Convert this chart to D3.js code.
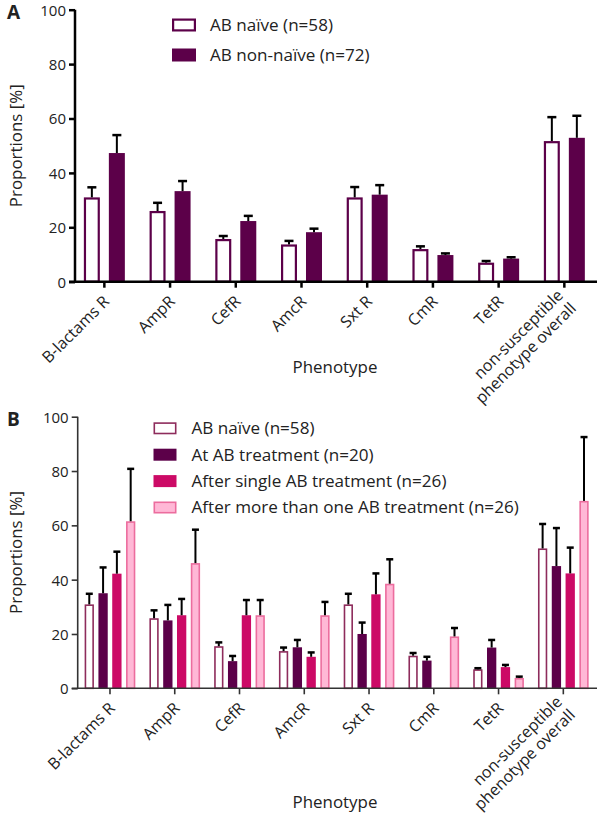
<!DOCTYPE html>
<html><head><meta charset="utf-8">
<script src="https://cdn.jsdelivr.net/npm/d3@7"></script>
<style>body{margin:0;background:#fff}svg{display:block}text{font-family:"Open Sans","Noto Sans",sans-serif;fill:#222}</style>
</head><body><svg id="c" width="602" height="826"></svg>
<script>
const categories = ["B-lactams R","AmpR","CefR","AmcR","Sxt R","CmR","TetR","non-susceptible|phenotype overall"];
const yTicks = [0,20,40,60,80,100];

const seriesA = ["AB naïve (n=58)","AB non-naïve (n=72)"];
const naiveA     = [31.0,26.0,15.7,13.7,31.0,12.0,7.0,51.7];
const naiveAErr  = [34.7,29.0,16.8,15.0,34.8,13.0,7.6,60.5];
const nonNaiveA    = [47.3,33.3,22.3,18.2,32.0,9.8,8.5,52.9];
const nonNaiveAErr = [53.9,37.0,24.2,19.5,35.5,10.4,9.0,61.0];

const seriesB = ["AB naïve (n=58)","At AB treatment (n=20)","After single AB treatment (n=26)","After more than one AB treatment (n=26)"];
const naiveB     = [30.9,25.8,15.5,13.7,30.9,12.0,7.0,51.5];
const naiveBErr  = [34.8,28.7,16.9,15.0,34.8,13.0,7.4,60.5];
const atB        = [35.0,25.0,10.0,15.1,20.0,10.2,15.0,45.0];
const atBErr     = [44.5,30.7,11.9,17.8,24.2,11.6,17.8,59.0];
const singleB    = [42.2,26.9,26.9,11.6,34.6,0,7.8,42.3];
const singleBErr = [50.3,32.9,32.5,13.2,42.3,0,8.6,51.8];
const moreB      = [61.5,46.1,26.9,26.9,38.5,19.1,3.8,69.0];
const moreBErr   = [80.8,58.4,32.5,31.8,47.5,22.2,4.3,92.5];

const svg = d3.select("#c");

function fitSize(str, target){
  const t = svg.append("text").attr("font-size",100).text(str);
  const w = t.node().getComputedTextLength(); t.remove();
  return 100*target/w;
}
const legSize = fitSize("AB naïve (n=58)", 123);
const titleSize = fitSize("Proportions [%]", 123);
const labSize = fitSize("B-lactams R", 87);

function panel(cfg){
  const g = svg.append("g");
  const x = d3.scaleBand().domain(categories).range(cfg.xRange);
  const y = d3.scaleLinear().domain([0,100]).range(cfg.yRange);
  const sub = d3.scaleBand().domain(cfg.series.map((s,i)=>i)).range(cfg.subRange).paddingInner(cfg.subPad);
  const rows = [];
  cfg.values.forEach((vals,si)=>vals.forEach((v,ci)=>rows.push({si,ci,v,e:cfg.errs[si][ci]})));
  const bw = sub.bandwidth();
  const cx = d=> x(categories[d.ci]) + x.bandwidth()/2 + sub(d.si);
  g.selectAll("rect.bar").data(rows.filter(d=>d.v>0)).join("rect")
    .attr("x", d=> cx(d) + cfg.style[d.si].sw/2)
    .attr("y", d=> y(d.v) + cfg.style[d.si].sw/2)
    .attr("width", d=> bw - cfg.style[d.si].sw)
    .attr("height", d=> Math.max(0, y(0) - y(d.v) - cfg.style[d.si].sw/2))
    .attr("fill", d=> cfg.style[d.si].fill)
    .attr("stroke", d=> cfg.style[d.si].stroke)
    .attr("stroke-width", d=> cfg.style[d.si].sw);
  const er = rows.filter(d=>d.v>0);
  g.selectAll("line.err").data(er).join("line")
    .attr("x1", d=>cx(d)+bw/2).attr("x2", d=>cx(d)+bw/2)
    .attr("y1", d=>y(d.v)).attr("y2", d=>y(d.e))
    .attr("stroke","#000").attr("stroke-width",cfg.errW);
  g.selectAll("line.cap").data(er).join("line")
    .attr("x1", d=>cx(d)+bw/2-cfg.cap).attr("x2", d=>cx(d)+bw/2+cfg.cap)
    .attr("y1", d=>y(d.e)).attr("y2", d=>y(d.e))
    .attr("stroke","#000").attr("stroke-width",cfg.errW+0.5);
  const yAxis = d3.axisLeft(y).tickValues(yTicks).tickSize(6).tickPadding(3);
  const ya = g.append("g").attr("transform",`translate(${cfg.yAxisX},0)`).call(yAxis);
  ya.select(".domain").attr("stroke",cfg.axisColor).attr("stroke-width",cfg.axisW).attr("d",`M0,${cfg.yRange[1]}V${cfg.yRange[0]}`);
  ya.selectAll(".tick line").attr("stroke",cfg.axisColor).attr("stroke-width",cfg.axisW);
  ya.selectAll(".tick text").attr("font-size",15).attr("dy","0.36em").attr("font-family","Open Sans").attr("fill","#222");
  const xAxis = d3.axisBottom(x).tickSize(6).tickFormat("");
  const xa = g.append("g").attr("transform",`translate(0,${cfg.yRange[0]})`).call(xAxis);
  xa.select(".domain").attr("stroke",cfg.axisColor).attr("stroke-width",cfg.axisW).attr("d",`M${cfg.yAxisX-6},0H${cfg.xEnd}`);
  xa.selectAll(".tick line").attr("stroke",cfg.axisColor).attr("stroke-width",cfg.axisW);
  categories.forEach(c=>{
    const px = x(c)+x.bandwidth()/2, py = cfg.yRange[0]+13;
    const t = g.append("text").attr("transform",`translate(${px-2},${py}) rotate(-45)`)
      .attr("text-anchor","end").attr("font-size",labSize);
    const parts = c.split("|");
    if(parts.length===1){ t.append("tspan").attr("x",0).attr("dy","0.7em").text(parts[0]); }
    else {
      t.append("tspan").attr("x",0).attr("dy","0.15em").text(parts[0]);
      t.append("tspan").attr("x",0).attr("dy","1.15em").text(parts[1]);
    }
  });
  g.append("text").attr("x",335).attr("y",cfg.xTitleY).attr("text-anchor","middle").attr("font-size",titleSize).text("Phenotype");
  g.append("text").attr("transform",`translate(22,${(cfg.yRange[0]+cfg.yRange[1])/2}) rotate(-90)`)
    .attr("text-anchor","middle").attr("font-size",titleSize).text("Proportions [%]");
  g.append("text").attr("x",7).attr("y",cfg.yRange[1]+9).attr("font-size",19).attr("font-weight","bold").attr("font-family","Liberation Sans, Arial").attr("fill","#000").text(cfg.label);
  cfg.series.forEach((s,i)=>{
    const ly = cfg.legY + i*cfg.legStep;
    const st = cfg.style[i];
    g.append("rect").attr("x",cfg.legX+st.sw/2).attr("y",ly-cfg.legH/2+st.sw/2).attr("width",cfg.legW-st.sw).attr("height",cfg.legH-st.sw)
      .attr("fill",st.fill).attr("stroke",st.stroke).attr("stroke-width",st.sw);
    g.append("text").attr("x",cfg.legX+cfg.legW+cfg.legGap).attr("y",ly).attr("dy","0.35em").attr("font-size",legSize).text(s);
  });
}

const dark = "#5c0049";
panel({
  label:"A", series:seriesA, values:[naiveA,nonNaiveA], errs:[naiveAErr,nonNaiveAErr],
  xRange:[71.5,597.2], yRange:[281.7,9.7], subRange:[-20.5,20.5], subPad:0.36,
  style:[{fill:"#fff",stroke:dark,sw:2.2},{fill:dark,stroke:dark,sw:0}],
  errW:2, cap:4.5, yAxisX:75, xEnd:597, axisColor:"#000", axisW:2.5,
  xTitleY:373, legX:172, legY:25, legStep:30, legW:24, legH:13, legGap:14
});
panel({
  label:"B", series:seriesB, values:[naiveB,atB,singleB,moreB], errs:[naiveBErr,atBErr,singleBErr,moreBErr],
  xRange:[77.6,595.7], yRange:[688.3,416.7], subRange:[-25.35,25.35], subPad:0.326,
  style:[{fill:"#fff",stroke:"#8e2c5c",sw:1.6},{fill:dark,stroke:dark,sw:0},{fill:"#cc0a66",stroke:"#cc0a66",sw:0},{fill:"#ffb8d6",stroke:"#ec6d9e",sw:1.6}],
  errW:2, cap:3.5, yAxisX:77.7, xEnd:597, axisColor:"#333", axisW:1.6,
  xTitleY:808, legX:153.5, legY:428.3, legStep:26.4, legW:23, legH:12, legGap:15
});
</script></body></html>
